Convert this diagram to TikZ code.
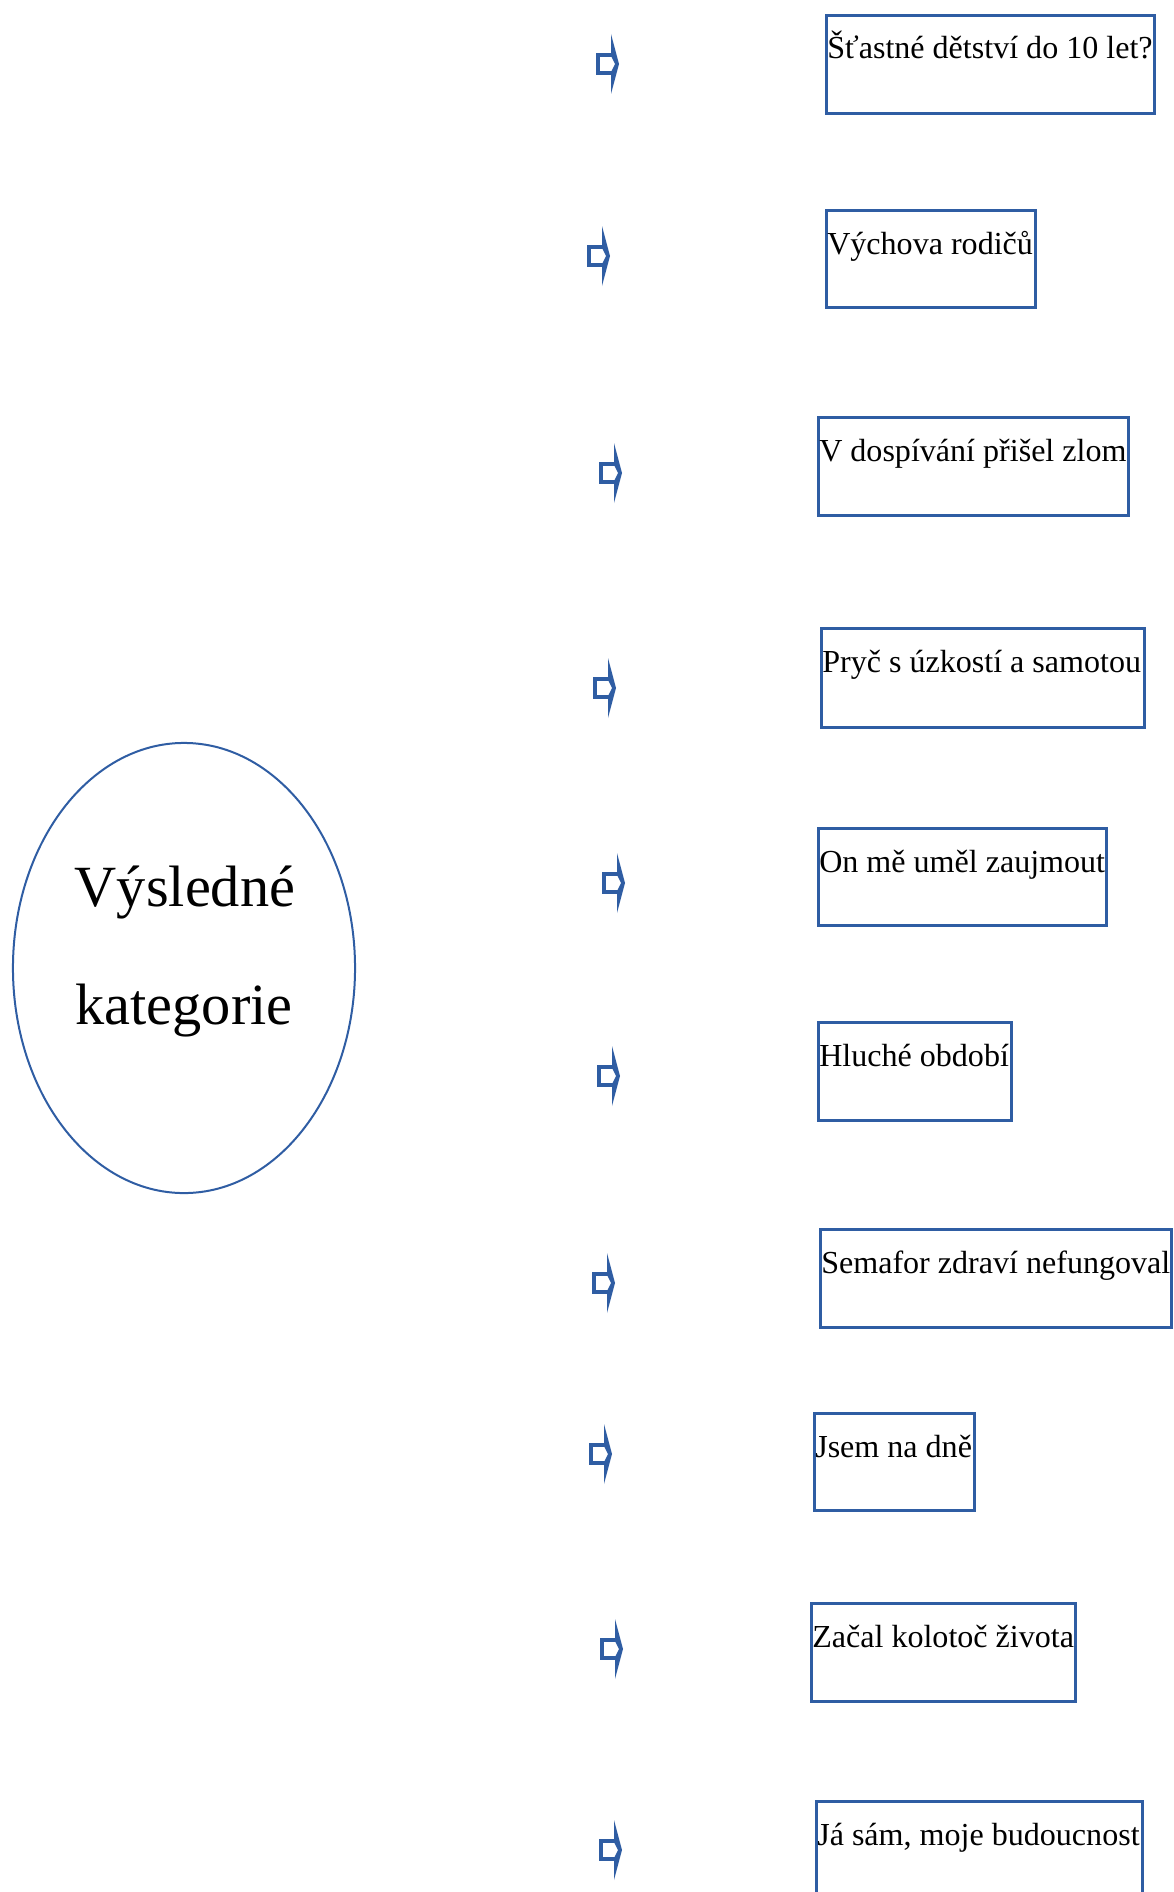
\documentclass[tikz,border=0pt]{standalone}
\usepackage{fontspec}
\setmainfont{Liberation Serif}
\usetikzlibrary{shapes.geometric}
\definecolor{modra}{RGB}{47,93,163}
\tikzset{
	ramecek/.style={draw=modra, line width=0.065cm, anchor=north west, inner sep=0pt},
	popis/.style={anchor=base west, inner sep=0pt, font=\fontsize{22.8}{27}\selectfont},
	velky/.style={anchor=base, inner sep=0pt, font=\fontsize{41.5}{48}\selectfont},
	sipka/.style={draw=modra, line width=0.085cm}
}
\begin{document}
\begin{tikzpicture}[x=0.025cm, y=-0.025cm, line join=miter]
		%==Rozměr obrázku
		\useasboundingbox (0,0) rectangle (1174,1892);
		%==Elipsa vlevo
		\node[draw=modra, line width=0.05cm, ellipse, minimum width=8.55cm, minimum height=11.25cm, inner sep=0pt] (elipsa) at (184,968) {};
		\node[velky] (radek1) at (185,906) {Výsledné};
		\node[velky] (radek2) at (184,1024) {kategorie};
		%==Šipky
		\foreach \x/\y in {596/64, 587/256, 599/473, 593/688, 602/883, 597/1076, 592/1283, 589/1454, 600/1649, 599/1850}{
			\fill[modra] (\x+15,\y-30)--(\x+23,\y)--(\x+15,\y+30)--(\x+15,\y+8)--(\x+19,\y)--(\x+15,\y-8)--cycle;
			\draw[sipka] (\x+16,\y-9)--(\x+2,\y-9)--(\x+2,\y+9)--(\x+16,\y+9);
		}
		%==Rámečky s kategoriemi
		\foreach \n/\l/\t/\r/\b/\txt in {
			kat1/825/14/1153/112/{Šťastné dětství do 10 let?},
			kat2/825/209/1034/306/{Výchova rodičů},
			kat3/817/416/1127/514/{V dospívání přišel zlom},
			kat4/820/627/1143/726/{Pryč s úzkostí a samotou},
			kat5/817/827/1105/924/{On mě uměl zaujmout},
			kat6/817/1021/1010/1119/{Hluché období},
			kat7/819/1228/1170/1326/{Semafor zdraví nefungoval},
			kat8/813/1412/973/1509/{Jsem na dně},
			kat9/810/1602/1074/1700/{Začal kolotoč života},
			kat10/815/1800/1141/1898/{Já sám, moje budoucnost}}{
			\node[ramecek, minimum width={(\r-\l)*0.025cm}, minimum height={(\b-\t)*0.025cm}] (\n) at (\l,\t) {};
			\node[popis] (t\n) at (\l+2,\t+45) {\txt};
		}
		\end{tikzpicture}
\end{document}
